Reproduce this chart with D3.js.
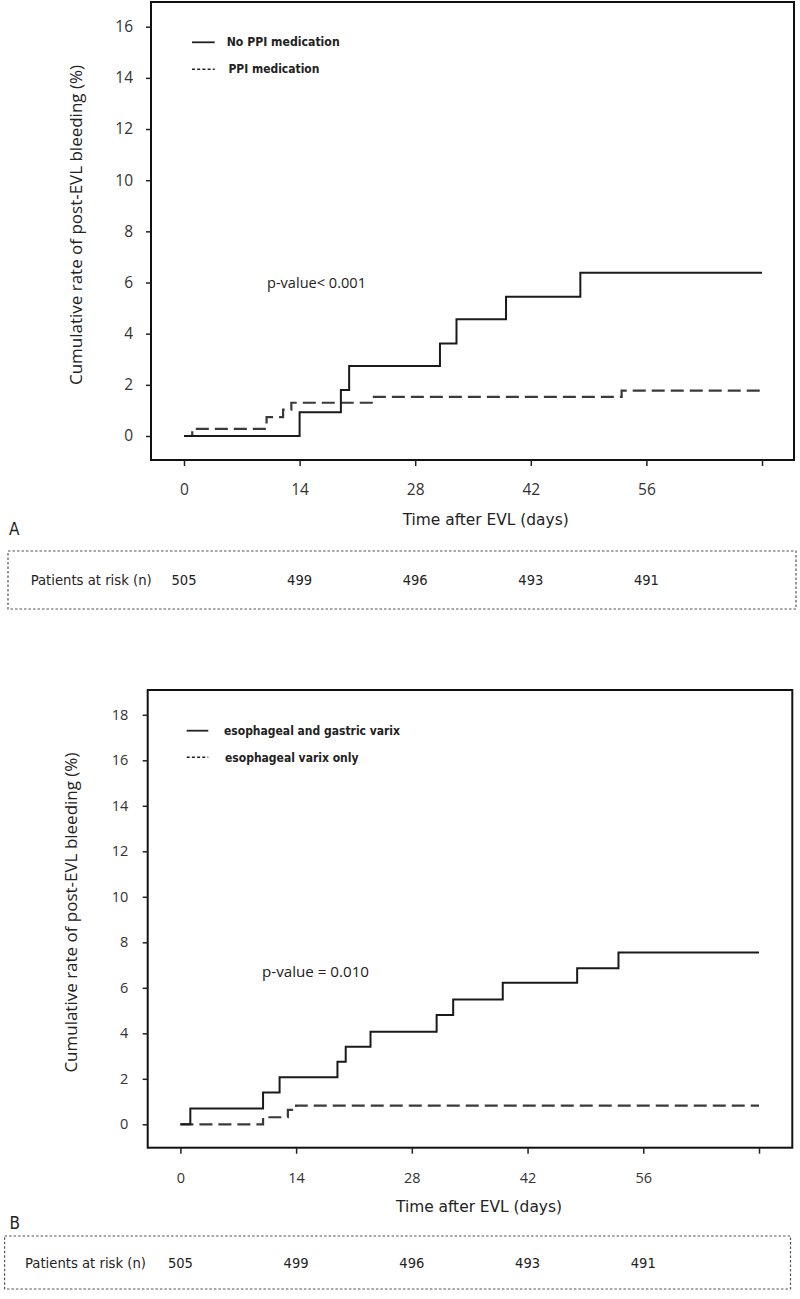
<!DOCTYPE html>
<html>
<head>
<meta charset="utf-8">
<script src="https://cdn.jsdelivr.net/npm/d3@7"></script>
<style>
  html, body { margin: 0; padding: 0; background: #fff; }
  svg { display: block; }
</style>
</head>
<body>
<div id="chart"></div>
<script>
// ---------------- DATA ----------------
// Panel A
const aSeriesNames = ["No PPI medication", "PPI medication"];
const aNoPPITimes  = [0, 14, 19, 20, 31, 33, 39, 48, 70];
const aNoPPIValues = [0, 0.93, 1.80, 2.74, 3.62, 4.56, 5.44, 6.38, 6.38];
const aPPITimes    = [0, 1, 10, 12, 13, 23, 53, 70];
const aPPIValues   = [0, 0.28, 0.74, 1.03, 1.30, 1.53, 1.77, 1.77];
const aYTicks      = [0, 2, 4, 6, 8, 10, 12, 14, 16];
const aPValue      = "p-value< 0.001";

// Panel B
const bSeriesNames = ["esophageal and gastric varix", "esophageal varix only"];
const bEGVTimes    = [0, 1.2, 10, 12, 19, 20, 23, 31, 33, 39, 48, 53, 70];
const bEGVValues   = [0, 0.69, 1.40, 2.07, 2.75, 3.41, 4.07, 4.80, 5.49, 6.22, 6.86, 7.55, 7.55];
const bEVOTimes    = [0, 10, 13, 14, 70];
const bEVOValues   = [0, 0.31, 0.63, 0.82, 0.82];
const bYTicks      = [0, 2, 4, 6, 8, 10, 12, 14, 16, 18];
const bPValue      = "p-value = 0.010";

// Shared
const xTicks       = [0, 14, 28, 42, 56, 70];
const xTickLabels  = ["0", "14", "28", "42", "56", ""];
const riskTimes    = [0, 14, 28, 42, 56];
const riskCounts   = [505, 499, 496, 493, 491];
const yTitle       = "Cumulative rate of post-EVL bleeding (%)";
const xTitle       = "Time after EVL (days)";
const riskLabel    = "Patients at risk (n)";

// ---------------- DRAW ----------------
const W = 800, H = 1299;
const svg = d3.select("#chart").append("svg")
  .attr("width", W).attr("height", H)
  .attr("viewBox", `0 0 ${W} ${H}`);
svg.append("rect").attr("width", W).attr("height", H).attr("fill", "#fff");

const tickFont = "'Open Sans', 'Noto Sans', sans-serif";
const condFont = "'DejaVu Sans Condensed', 'Liberation Sans Narrow', 'Open Sans', sans-serif";

function zip(ts, vs) { return ts.map((t, i) => ({ t: t, v: vs[i] })); }

function panel(cfg) {
  const g = svg.append("g");
  const x = d3.scaleLinear().domain([0, 70]).range(cfg.xRange);
  const y = d3.scaleLinear().domain([0, cfg.yMax]).range(cfg.yRange);

  // frame
  g.append("rect")
    .attr("x", cfg.box[0]).attr("y", cfg.box[1])
    .attr("width", cfg.box[2] - cfg.box[0]).attr("height", cfg.box[3] - cfg.box[1])
    .attr("fill", "none").attr("stroke", "#111").attr("stroke-width", 2);

  // y axis
  const ya = g.append("g")
    .attr("transform", `translate(${cfg.box[0]},0)`)
    .call(d3.axisLeft(y).tickValues(cfg.yTicks).tickSize(5).tickPadding(cfg.yPad).tickFormat(d3.format("d")));
  ya.select(".domain").remove();
  ya.selectAll(".tick line").attr("stroke", "#222").attr("stroke-width", 1.5);
  ya.selectAll(".tick text").attr("font-family", tickFont).attr("font-size", cfg.tickSize).attr("fill", "#333");

  // x axis
  const xa = g.append("g")
    .attr("transform", `translate(0,${cfg.box[3]})`)
    .call(d3.axisBottom(x).tickValues(xTicks).tickSize(6).tickPadding(cfg.xPad)
      .tickFormat((d, i) => xTickLabels[i]));
  xa.select(".domain").remove();
  xa.selectAll(".tick line").attr("stroke", "#222").attr("stroke-width", 1.5);
  xa.selectAll(".tick text").attr("font-family", tickFont).attr("font-size", cfg.tickSize).attr("fill", "#333");

  // y title
  g.append("text")
    .attr("transform", `translate(${cfg.yTitlePos[0]},${cfg.yTitlePos[1]}) rotate(-90)`)
    .attr("text-anchor", "middle").attr("dy", "0.35em")
    .attr("font-family", tickFont).attr("font-size", 15.5).attr("fill", "#222")
    .attr("textLength", 320).attr("lengthAdjust", "spacingAndGlyphs")
    .text(yTitle);

  // x title
  g.append("text")
    .attr("x", cfg.xTitlePos[0]).attr("y", cfg.xTitlePos[1])
    .attr("text-anchor", "middle").attr("dy", "0.35em")
    .attr("font-family", condFont).attr("font-size", 16).attr("fill", "#222")
    .attr("textLength", 166).attr("lengthAdjust", "spacingAndGlyphs")
    .text(xTitle);

  // panel letter
  g.append("text")
    .attr("x", cfg.letterPos[0]).attr("y", cfg.letterPos[1])
    .attr("dy", "0.35em")
    .attr("font-family", condFont).attr("font-size", 17).attr("fill", "#222")
    .text(cfg.letter);

  // curves
  const line = d3.line().x(d => x(d.t)).y(d => y(d.v)).curve(d3.curveStepAfter);
  g.append("path").datum(cfg.dashed)
    .attr("d", line).attr("fill", "none")
    .attr("stroke", "#3a3a3a").attr("stroke-width", 2.2)
    .attr("stroke-dasharray", "13,6");
  g.append("path").datum(cfg.solid)
    .attr("d", line).attr("fill", "none")
    .attr("stroke", "#1a1a1a").attr("stroke-width", 2);

  // legend
  const lg = g.append("g");
  cfg.names.forEach((name, i) => {
    const ly = cfg.legendY[i];
    lg.append("line")
      .attr("x1", cfg.legendLine[0]).attr("x2", cfg.legendLine[1])
      .attr("y1", ly).attr("y2", ly)
      .attr("stroke", "#222").attr("stroke-width", i === 0 ? 1.8 : 1.5)
      .attr("stroke-dasharray", i === 0 ? null : "3,2.2");
    lg.append("text")
      .attr("x", cfg.legendText[i]).attr("y", ly).attr("dy", "0.35em")
      .attr("font-family", condFont).attr("font-weight", "bold")
      .attr("font-size", cfg.legendFont).attr("fill", "#222")
      .attr("textLength", cfg.legendWidths[i]).attr("lengthAdjust", "spacingAndGlyphs")
      .text(name);
  });

  // p-value
  g.append("text")
    .attr("x", cfg.pPos[0]).attr("y", cfg.pPos[1]).attr("dy", "0.35em")
    .attr("font-family", tickFont).attr("font-size", 14.5).attr("fill", "#222")
    .attr("textLength", cfg.pWidth).attr("lengthAdjust", "spacingAndGlyphs")
    .text(cfg.pText);

  // risk table
  const tb = cfg.table;
  g.append("rect")
    .attr("x", tb[0]).attr("y", tb[1]).attr("width", tb[2] - tb[0]).attr("height", tb[3] - tb[1])
    .attr("fill", "none").attr("stroke", "#555").attr("stroke-width", 1.2)
    .attr("stroke-dasharray", "2.5,2");
  const ty = (tb[1] + tb[3]) / 2;
  g.append("text")
    .attr("x", cfg.riskLabelX).attr("y", ty).attr("dy", "0.35em")
    .attr("font-family", condFont).attr("font-size", 14.5).attr("fill", "#222")
    .attr("textLength", 121).attr("lengthAdjust", "spacingAndGlyphs")
    .text(riskLabel);
  g.selectAll(".risk").data(riskCounts).enter().append("text")
    .attr("x", (d, i) => x(riskTimes[i]))
    .attr("y", ty).attr("dy", "0.35em").attr("text-anchor", "middle")
    .attr("font-family", condFont).attr("font-size", 14.5).attr("fill", "#222")
    .attr("textLength", 25).attr("lengthAdjust", "spacingAndGlyphs")
    .text(d => d);
}

panel({
  box: [151, 2, 794, 460],
  xRange: [184, 762],
  yMax: 16, yRange: [436, 26.7],
  yTicks: aYTicks, yPad: 13, xPad: 18, tickSize: 15.5,
  yTitlePos: [76.7, 225],
  xTitlePos: [485.7, 519],
  letter: "A", letterPos: [9, 529],
  solid: zip(aNoPPITimes, aNoPPIValues),
  dashed: zip(aPPITimes, aPPIValues),
  names: aSeriesNames,
  legendY: [42.3, 69.3], legendLine: [192, 214.7], legendText: [226.7, 228.4],
  legendWidths: [113, 91], legendFont: 11.5,
  pText: aPValue, pPos: [267, 283], pWidth: 99,
  table: [8, 551, 796, 609], riskLabelX: 30.7
});

panel({
  box: [147.7, 690, 792.3, 1147.7],
  xRange: [180.4, 759],
  yMax: 18, yRange: [1124.3, 714.8],
  yTicks: bYTicks, yPad: 14.4, xPad: 19.5, tickSize: 14.5,
  yTitlePos: [71.7, 912.6],
  xTitlePos: [479, 1206],
  letter: "B", letterPos: [9.6, 1223],
  solid: zip(bEGVTimes, bEGVValues),
  dashed: zip(bEVOTimes, bEVOValues),
  names: bSeriesNames,
  legendY: [730.7, 757.3], legendLine: [186.7, 208.3], legendText: [224, 225],
  legendWidths: [176, 133.5], legendFont: 12,
  pText: bPValue, pPos: [262, 971.7], pWidth: 107,
  table: [4.6, 1236, 790.5, 1289], riskLabelX: 25
});
</script>
</body>
</html>
